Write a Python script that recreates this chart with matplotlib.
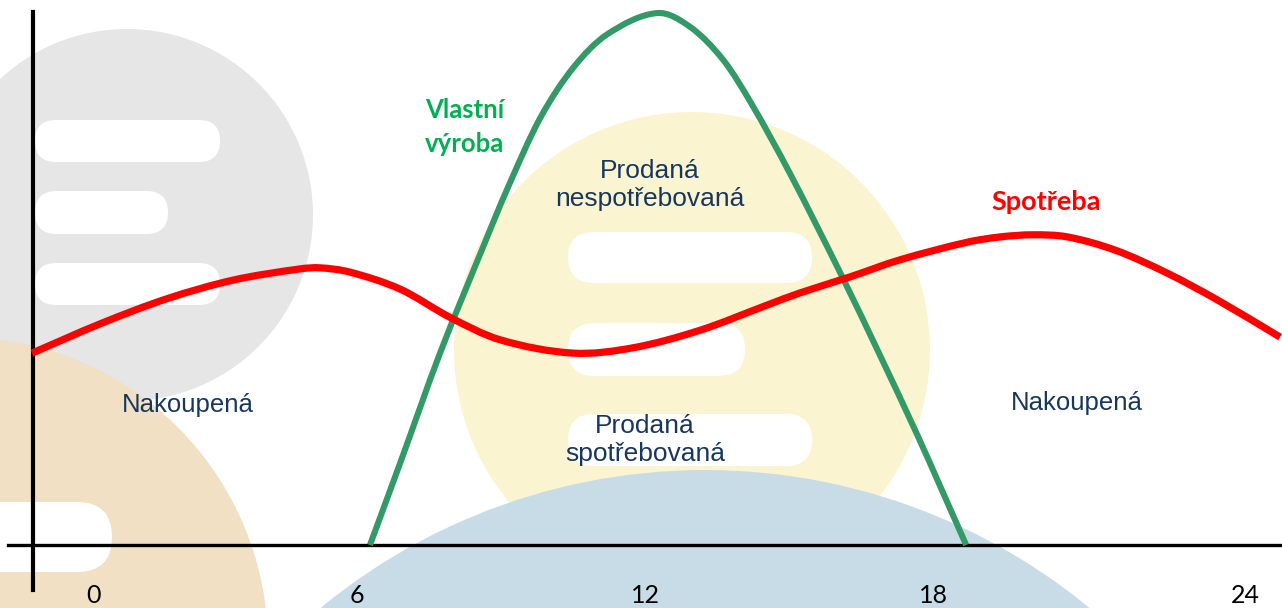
import numpy as np
import matplotlib.pyplot as plt
from matplotlib.path import Path
from matplotlib.patches import PathPatch, Circle, FancyBboxPatch

# hodiny a vykon (cteno z obrazku)
spotreba_h = [-0.77, 0.65, 2.04, 3.42, 4.81, 5.23, 5.85, 6.9, 7.94, 8.98, 10.5, 11.75,
              13.15, 14.54, 15.23, 16.27, 17.31, 18.71, 19.4, 20.08, 20.8, 21.8, 22.88,
              23.92, 25.23]
spotreba_p = [3.60, 4.15, 4.62, 4.97, 5.18, 5.20, 5.12, 4.80, 4.27, 3.85, 3.60, 3.70,
              4.03, 4.50, 4.73, 5.03, 5.35, 5.68, 5.78, 5.82, 5.78, 5.53, 5.10,
              4.60, 3.90]

vyroba_h = [6.27, 6.9, 7.73, 8.63, 9.13, 9.81, 10.5, 11.21, 12.25, 12.94, 13.63, 14.23,
            15.02, 16.06, 16.9, 17.67, 18.15, 18.69]
vyroba_p = [0.0, 1.54, 3.60, 5.60, 6.68, 8.00, 8.95, 9.58, 9.98, 9.72, 9.10, 8.26,
            6.97, 5.12, 3.55, 2.07, 1.10, 0.0]

tick_pos = [0.5, 6, 12, 18, 24.5]
tick_labels = ['0', '6', '12', '18', '24']

navy = '#17375e'


def smooth_path(x, y):
    # hladka krivka pres body (kubicky Hermite po x)
    x = np.asarray(x, float)
    y = np.asarray(y, float)
    n = len(x)
    m = np.empty(n)
    m[0] = (y[1] - y[0]) / (x[1] - x[0])
    m[-1] = (y[-1] - y[-2]) / (x[-1] - x[-2])
    m[1:-1] = (y[2:] - y[:-2]) / (x[2:] - x[:-2])
    verts = [(x[0], y[0])]
    codes = [Path.MOVETO]
    for i in range(n - 1):
        d = (x[i + 1] - x[i]) / 3
        verts += [(x[i] + d, y[i] + m[i] * d), (x[i + 1] - d, y[i + 1] - m[i + 1] * d),
                  (x[i + 1], y[i + 1])]
        codes += [Path.CURVE4] * 3
    return Path(verts, codes)


fig = plt.figure(figsize=(12.82, 6.08), dpi=100)

# pozadi (logo) v pixelovych souradnicich
bg = fig.add_axes([0, 0, 1, 1], zorder=0)
bg.set_xlim(0, 1282)
bg.set_ylim(608, 0)
bg.axis('off')


def bar(x, y, w, h, **kw):
    bg.add_patch(FancyBboxPatch((x, y), w, h, boxstyle='round,pad=0,rounding_size=%f' % (h / 2),
                                fc='white', ec='none', **kw))


bg.add_patch(Circle((127, 215), 186, fc='#e6e6e6', ec='none'))
bar(35, 120, 185, 42)
bar(35, 191, 133, 43)
bar(35, 263, 185, 42)
bg.add_patch(Circle((-40, 645), 308, fc='#f2e0c4', ec='none'))
bar(-60, 502, 172, 70)
bg.add_patch(Circle((692, 350), 238, fc='#faf5d0', ec='none'))
bar(568, 232, 244, 51)
bar(568, 323, 177, 53)
bar(568, 414, 244, 52)
bg.add_patch(Circle((705, 1075), 605, fc='#c8dce8', ec='none'))

# hlavni graf
ax = fig.add_axes([0, 0, 1, 1], zorder=1)
ax.patch.set_alpha(0)
ax.set_xlim(-1.4375, 25.27)
ax.set_ylim(-63 / 53.3, 545 / 53.3)
for s in ['top', 'right']:
    ax.spines[s].set_visible(False)
ax.spines['left'].set_position(('data', -0.75))
ax.spines['left'].set_bounds(-0.84, 10.0)
ax.spines['left'].set_linewidth(3)
ax.spines['bottom'].set_position(('data', 0))
ax.spines['bottom'].set_bounds(-1.27, 25.27)
ax.spines['bottom'].set_linewidth(2.4)
ax.set_xticks([])
ax.set_yticks([])

ax.add_patch(PathPatch(smooth_path(vyroba_h, vyroba_p), fill=False, ec='#339966', lw=4.4,
                       capstyle='butt', zorder=3))
ax.add_patch(PathPatch(smooth_path(spotreba_h, spotreba_p), fill=False, ec='#ff0000', lw=5.2,
                       capstyle='butt', zorder=4))

for p, t in zip(tick_pos, tick_labels):
    ax.text(p, -1.09, t, ha='center', va='baseline', fontsize=18, family='Lato', color='black')

ax.text(7.42, 7.84, 'Vlastní\nvýroba', ha='left', va='center', fontsize=18.5, family='Lato',
        fontweight='bold', color='#00b050', linespacing=1.5)
ax.text(20.35, 6.44, 'Spotřeba', ha='center', va='center', fontsize=19.5, family='Lato',
        fontweight='bold', color='#ff0000')
ax.text(12.1, 6.75, 'Prodaná\nnespotřebovaná', ha='center', va='center', fontsize=19,
        family='Liberation Sans', color=navy, linespacing=1.2)
ax.text(12.0, 1.97, 'Prodaná\nspotřebovaná', ha='center', va='center', fontsize=19,
        family='Liberation Sans', color=navy, linespacing=1.2)
ax.text(2.48, 2.50, 'Nakoupená', ha='center', va='baseline', fontsize=18.5,
        family='Liberation Sans', color=navy)
ax.text(21.0, 2.53, 'Nakoupená', ha='center', va='baseline', fontsize=18.5,
        family='Liberation Sans', color=navy)

fig.savefig('out.png', dpi=100)
